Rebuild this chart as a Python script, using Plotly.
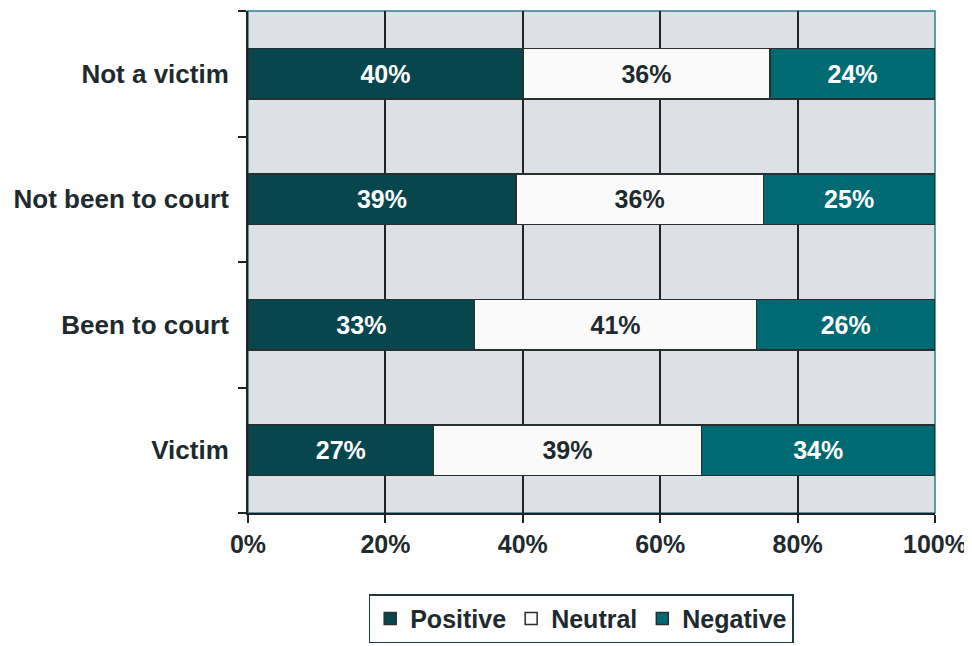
import plotly.graph_objects as go

categories = ["Victim", "Been to court", "Not been to court", "Not a victim"]
positive = [27, 33, 39, 40]
neutral = [39, 41, 36, 36]
negative = [34, 26, 25, 24]
series_names = ["Positive", "Neutral", "Negative"]
colors = ["#08464e", "#fafafa", "#006a73"]
text_colors = ["white", "#1e2a2e", "white"]
tick_vals = [0, 20, 40, 60, 80, 100]
tick_text = ["0%", "20%", "40%", "60%", "80%", "100%"]

FONT = "Liberation Sans, Arial, sans-serif"
fig = go.Figure()
for name, vals, col, tc in zip(series_names, [positive, neutral, negative], colors, text_colors):
    fig.add_trace(go.Bar(
        y=categories, x=vals, name=name, orientation="h",
        marker=dict(color=col, line=dict(color="#26302f", width=1.5)),
        width=0.4,
        text=[f"<b>{v}%</b>" for v in vals],
        textposition="inside", insidetextanchor="middle", textangle=0,
        textfont=dict(family=FONT, size=25, color=tc),
        constraintext="none",
    ))

fig.update_layout(
    barmode="stack",
    width=964, height=638,
    margin=dict(l=240, r=37, t=3, b=121),
    plot_bgcolor="#dde0e4",
    paper_bgcolor="white",
    font=dict(family=FONT, size=24, color="#1e2a2e"),
    legend=dict(
        orientation="h", x=0.485, xanchor="center", y=-0.162, yanchor="top",
        bordercolor="#1e3a3e", borderwidth=1.5,
        font=dict(family=FONT, size=25, color="#1e2a2e", weight="bold"),
        traceorder="normal", itemwidth=30,
    ),
    xaxis=dict(
        range=[0, 100], tickvals=tick_vals, ticktext=tick_text,
        showgrid=True, gridcolor="#222222", gridwidth=1.5,
        showline=True, linecolor="#222222", linewidth=2,
        ticks="outside", ticklen=8, tickcolor="#222222", tickwidth=2,
        tickfont=dict(family=FONT, size=25, color="#1e2a2e", weight="bold"),
        zeroline=False, fixedrange=True, automargin=False,
        ticklabeloverflow="allow",
    ),
    yaxis=dict(
        categoryorder="array", categoryarray=categories,
        tickson="boundaries", showgrid=False,
        showline=True, linecolor="#222222", linewidth=2,
        ticks="outside", ticklen=8, tickcolor="#222222", tickwidth=2,
        tickfont=dict(family=FONT, size=26, color="#1e2a2e", weight="bold"),
        ticklabelstandoff=12, automargin=False,
    ),
)
fig.add_shape(type="rect", xref="paper", yref="paper", x0=0, x1=1, y0=0, y1=1,
              line=dict(color="#2a8090", width=1.5), layer="below")
fig.write_html("out.html")
